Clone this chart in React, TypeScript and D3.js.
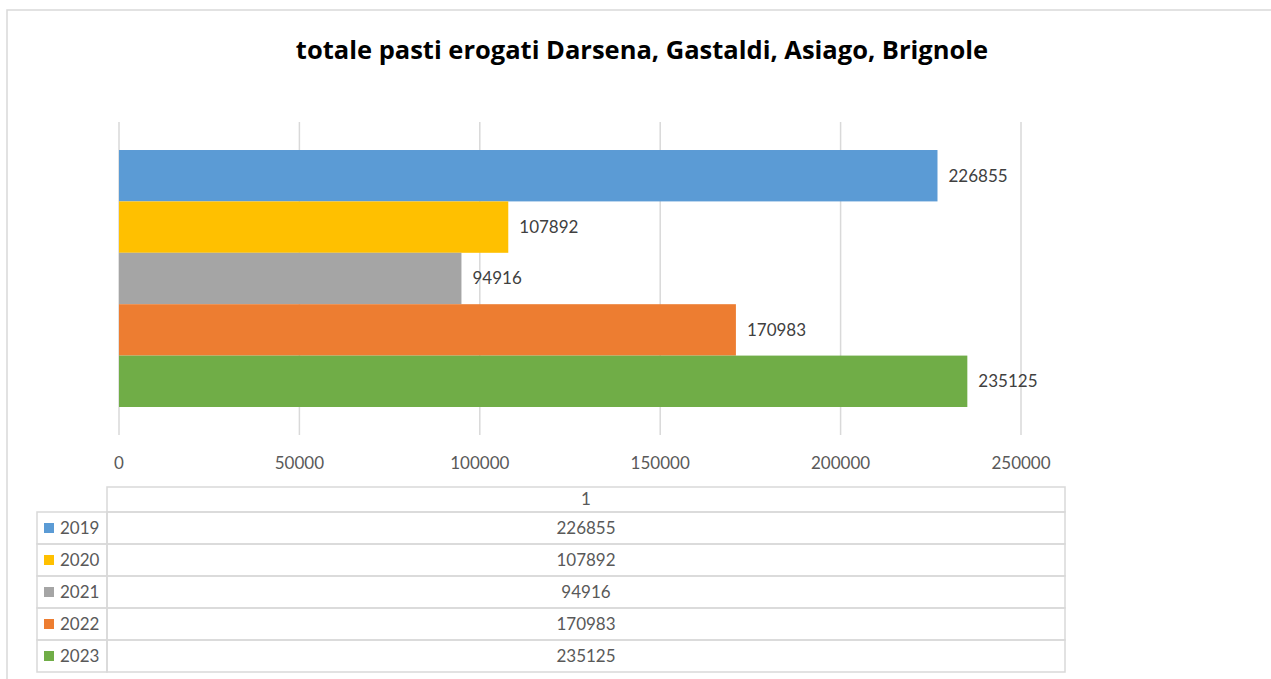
import React, { useEffect, useRef } from 'react';
import * as d3 from 'd3';

// chart data
const title = 'totale pasti erogati Darsena, Gastaldi, Asiago, Brignole';
const category = ['1'];
const years = ['2019', '2020', '2021', '2022', '2023'];
const values = [226855, 107892, 94916, 170983, 235125];
const colors = ['#5b9bd5', '#ffc000', '#a5a5a5', '#ed7d31', '#70ad47'];
const xTicks = [0, 50000, 100000, 150000, 200000, 250000];

const W = 1271;
const H = 679;
const FONT = 'Lato, "Open Sans", sans-serif';
const TITLE_FONT = '"Open Sans", Lato, sans-serif';

const App = () => {
  const ref = useRef<SVGSVGElement | null>(null);

  useEffect(() => {
    const svg = d3.select(ref.current);
    svg.selectAll('*').remove();

    // outer chart frame (right and bottom are cut off)
    svg.append('path')
      .attr('d', `M7,${H} L7,10 L${W},10`)
      .attr('fill', 'none')
      .attr('stroke', '#d9d9d9')
      .attr('stroke-width', 1.5);

    svg.append('text')
      .attr('x', 642)
      .attr('y', 59)
      .attr('text-anchor', 'middle')
      .attr('font-family', TITLE_FONT)
      .attr('font-weight', 700)
      .attr('font-size', 25.5)
      .attr('fill', '#000')
      .text(title);

    const x = d3.scaleLinear().domain([0, 250000]).range([119, 1021]);
    const yCat = d3.scaleBand().domain(category).range([122, 435]).paddingOuter(0.109);
    const yBar = d3.scaleBand().domain(years).range([0, yCat.bandwidth()]);

    // grid lines
    svg.append('g')
      .selectAll('line')
      .data(xTicks)
      .join('line')
      .attr('x1', (d) => x(d))
      .attr('x2', (d) => x(d))
      .attr('y1', 122)
      .attr('y2', 435)
      .attr('stroke', '#d9d9d9')
      .attr('stroke-width', 1.5);

    // tick labels
    svg.append('g')
      .selectAll('text')
      .data(xTicks)
      .join('text')
      .attr('x', (d) => x(d))
      .attr('y', 469)
      .attr('text-anchor', 'middle')
      .attr('font-family', FONT)
      .attr('font-size', 17)
      .attr('fill', '#595959')
      .text((d) => String(d));

    const y0 = yCat('1') ?? 0;
    const bars = svg.append('g');
    bars.selectAll('rect')
      .data(values)
      .join('rect')
      .attr('x', x(0))
      .attr('y', (_, i) => y0 + (yBar(years[i]) ?? 0))
      .attr('width', (d) => x(d) - x(0))
      .attr('height', yBar.bandwidth())
      .attr('fill', (_, i) => colors[i]);

    bars.selectAll('text')
      .data(values)
      .join('text')
      .attr('x', (d) => x(d) + 11)
      .attr('y', (_, i) => y0 + (yBar(years[i]) ?? 0) + yBar.bandwidth() / 2)
      .attr('dy', '0.35em')
      .attr('font-family', FONT)
      .attr('font-size', 17)
      .attr('fill', '#404040')
      .text((d) => String(d));

    // data table
    const tLeft = 37;
    const tMid = 107;
    const tRight = 1065;
    const headTop = 487;
    const rowTop = 512;
    const rowH = 32;
    const g = svg.append('g').attr('stroke', '#d9d9d9').attr('stroke-width', 1.5).attr('fill', 'none');
    g.append('rect').attr('x', tMid).attr('y', headTop).attr('width', tRight - tMid).attr('height', rowTop - headTop);
    years.forEach((yr, i) => {
      const ry = rowTop + i * rowH;
      g.append('rect').attr('x', tLeft).attr('y', ry).attr('width', tMid - tLeft).attr('height', rowH);
      g.append('rect').attr('x', tMid).attr('y', ry).attr('width', tRight - tMid).attr('height', rowH);
    });

    svg.append('text')
      .attr('x', (tMid + tRight) / 2)
      .attr('y', (headTop + rowTop) / 2)
      .attr('dy', '0.35em')
      .attr('text-anchor', 'middle')
      .attr('font-family', FONT)
      .attr('font-size', 17)
      .attr('fill', '#595959')
      .text(category[0]);

    const rows = svg.append('g');
    years.forEach((yr, i) => {
      const cy = rowTop + i * rowH + rowH / 2;
      rows.append('rect')
        .attr('x', 44)
        .attr('y', cy - 5)
        .attr('width', 10)
        .attr('height', 10)
        .attr('fill', colors[i]);
      rows.append('text')
        .attr('x', 60)
        .attr('y', cy)
        .attr('dy', '0.35em')
        .attr('font-family', FONT)
        .attr('font-size', 17)
        .attr('fill', '#595959')
        .text(yr);
      rows.append('text')
        .attr('x', (tMid + tRight) / 2)
        .attr('y', cy)
        .attr('dy', '0.35em')
        .attr('text-anchor', 'middle')
        .attr('font-family', FONT)
        .attr('font-size', 17)
        .attr('fill', '#595959')
        .text(String(values[i]));
    });
  }, []);

  return (
    <div style={{ position: 'fixed', left: 0, top: 0, background: '#fff' }}>
      <svg ref={ref} width={W} height={H} style={{ display: 'block' }} />
    </div>
  );
};

export default App;
